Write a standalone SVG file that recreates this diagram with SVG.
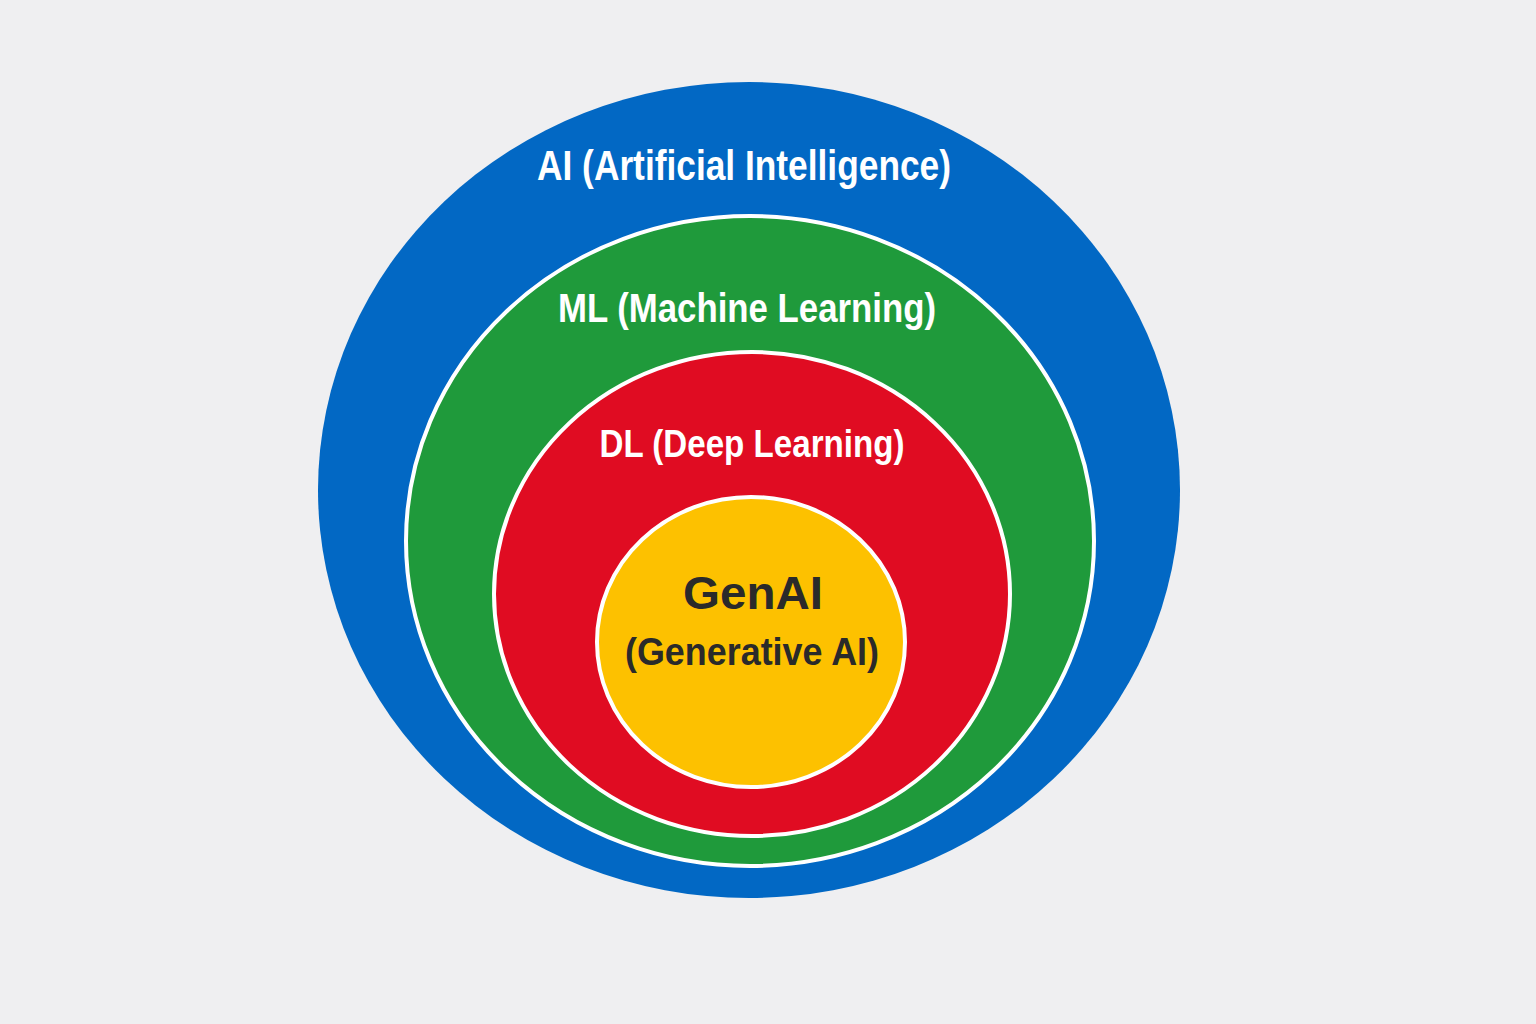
<svg xmlns="http://www.w3.org/2000/svg" width="1536" height="1024" viewBox="0 0 1536 1024">
<style>
.t{font-family:"Liberation Sans","DejaVu Sans",sans-serif;font-weight:bold;text-anchor:middle}
.w{fill:#ffffff}
.d{fill:#2a2a2a}
.ring{stroke:#ffffff;stroke-width:4}
</style>
<rect width="1536" height="1024" fill="#efeff1"/>
<g id="ai">
<ellipse cx="749" cy="490" rx="431" ry="408" fill="#0268c4"/>
<text class="t w" x="744" y="180" font-size="42" textLength="414" lengthAdjust="spacingAndGlyphs">AI (Artificial Intelligence)</text>
</g>
<g id="ml">
<ellipse class="ring" cx="750" cy="541" rx="344" ry="325" fill="#1f9a3b"/>
<text class="t w" x="747" y="322" font-size="40" textLength="378" lengthAdjust="spacingAndGlyphs">ML (Machine Learning)</text>
</g>
<g id="dl">
<ellipse class="ring" cx="752" cy="594" rx="258" ry="242" fill="#e00c22"/>
<text class="t w" x="752" y="457" font-size="38" textLength="305" lengthAdjust="spacingAndGlyphs">DL (Deep Learning)</text>
</g>
<g id="genai">
<ellipse class="ring" cx="751" cy="642" rx="154" ry="145" fill="#fdc100"/>
<text class="t d" x="753" y="609" font-size="46" textLength="140" lengthAdjust="spacingAndGlyphs">GenAI</text>
<text class="t d" x="752" y="665" font-size="38" textLength="254" lengthAdjust="spacingAndGlyphs">(Generative AI)</text>
</g>
<g id="connectors"/>
</svg>
